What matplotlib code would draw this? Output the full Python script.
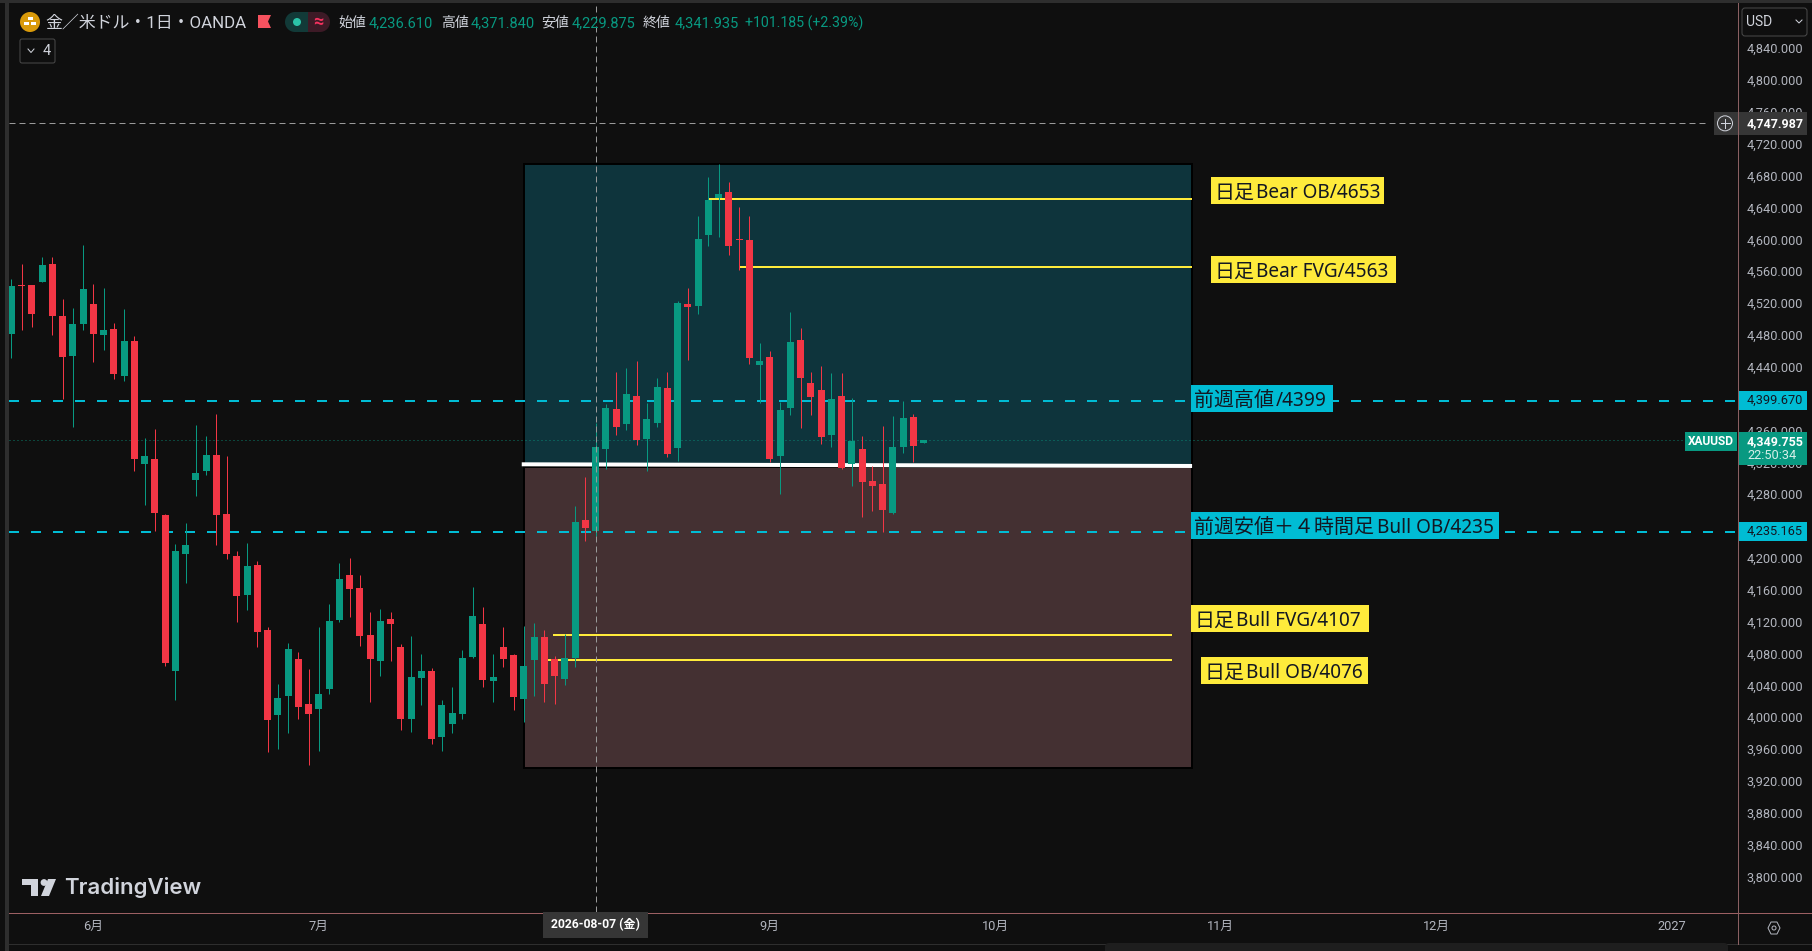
import matplotlib
matplotlib.use('Agg')
import matplotlib.pyplot as plt
from matplotlib.patches import Rectangle, Circle, Polygon, FancyBboxPatch
from matplotlib.transforms import ScaledTranslation

plt.rcParams['font.family'] = ['Roboto', 'Noto Sans CJK JP', 'DejaVu Sans']

# daily candles
opens = [4483.4, 4544.9, 4544.9, 4548.7, 4571.3, 4506.0, 4455.8, 4496.0, 4521.1, 4482.1,
         4489.7, 4430.7, 4474.6, 4320.1, 4326.4, 4256.1, 4060.2, 4207.2, 4300.1, 4311.4,
         4331.4, 4257.4, 4204.7, 4155.7, 4193.4, 4111.7, 4005.0, 4028.8, 4075.3, 4018.8,
         4012.5, 4037.6, 4124.3, 4180.8, 4164.5, 4105.4, 4072.8, 4125.5, 4090.4, 3999.9,
         4051.4, 4060.2, 3977.4, 3993.7, 4006.2, 4077.8, 4119.3, 4047.7, 4090.4, 4080.3,
         4025.0, 4074.0, 4102.9, 4075.3, 4050.2, 4076.6, 4249.9, 4236.61, 4339.0, 4389.2,
         4370.4, 4405.6, 4351.6, 4371.7, 4415.6, 4340.3, 4521.1, 4518.6, 4607.8, 4654.2,
         4661.8, 4602.7, 4601.5, 4444.5, 4454.5, 4330.2, 4390.5, 4475.9, 4421.9, 4413.1,
         4356.6, 4405.6, 4320.2, 4339.0, 4298.8, 4295.0, 4258.6, 4341.5, 4379.2, 4346.5]
highs = [4552.5, 4571.3, 4544.9, 4580.1, 4580.1, 4527.3, 4516.0, 4595.2, 4546.2, 4541.2,
         4497.2, 4514.8, 4480.9, 4352.8, 4364.1, 4257.4, 4219.7, 4246.1, 4369.1, 4355.3,
         4382.9, 4330.2, 4210.9, 4221.0, 4198.4, 4115.5, 4043.9, 4095.4, 4084.1, 4062.7,
         4115.5, 4144.4, 4195.8, 4202.1, 4180.8, 4134.3, 4138.0, 4134.3, 4094.1, 4104.2,
         4081.6, 4064.0, 4023.8, 4040.1, 4086.6, 4165.7, 4140.6, 4081.6, 4115.5, 4081.6,
         4116.8, 4120.5, 4111.7, 4079.0, 4106.7, 4267.4, 4303.9, 4371.84, 4395.5, 4435.7,
         4440.7, 4449.5, 4396.8, 4428.2, 4435.7, 4524.9, 4541.2, 4631.6, 4680.6, 4696.9,
         4674.3, 4642.9, 4631.6, 4472.1, 4462.1, 4398.0, 4511.1, 4491.0, 4435.7, 4443.2,
         4434.4, 4434.4, 4403.0, 4355.3, 4317.7, 4367.9, 4380.4, 4399.3, 4383.0, 4350.3]
lows = [4453.3, 4488.4, 4492.2, 4548.7, 4482.1, 4401.8, 4366.6, 4488.4, 4448.2, 4463.3,
        4426.9, 4424.4, 4311.4, 4268.7, 4236.1, 4066.5, 4023.8, 4170.8, 4280.0, 4306.3,
        4218.5, 4200.9, 4121.8, 4136.8, 4090.4, 3958.5, 3962.3, 3982.4, 4000.0, 3942.2,
        3959.8, 4031.4, 4121.8, 4128.0, 4091.6, 4021.3, 4054.0, 4072.8, 3986.1, 3983.6,
        4017.5, 3968.6, 3959.8, 3982.4, 3999.9, 4076.6, 4040.1, 4021.3, 4065.3, 4011.2,
        3996.2, 4028.8, 4021.3, 4018.8, 4042.6, 4065.3, 4223.5, 4229.875, 4313.9, 4356.6,
        4362.9, 4344.0, 4311.4, 4366.6, 4329.0, 4323.9, 4450.8, 4508.5, 4593.9, 4605.2,
        4582.6, 4563.8, 4445.8, 4396.8, 4322.7, 4282.5, 4381.7, 4365.4, 4381.7, 4345.3,
        4341.5, 4313.9, 4292.5, 4253.6, 4261.1, 4234.8, 4257.4, 4334.0, 4322.7, 4346.5]
closes = [4543.7, 4544.1, 4508.5, 4570.0, 4506.0, 4454.5, 4496.0, 4539.9, 4483.4, 4488.4,
          4433.2, 4474.6, 4326.4, 4330.2, 4258.7, 4070.3, 4210.9, 4218.5, 4308.8, 4331.4,
          4256.1, 4207.2, 4154.4, 4192.1, 4109.2, 3998.7, 4026.3, 4087.9, 4015.0, 4006.2,
          4031.4, 4123.0, 4175.8, 4163.2, 4104.2, 4075.3, 4123.0, 4119.3, 3999.9, 4052.7,
          4060.2, 3974.8, 4017.5, 4007.5, 4076.6, 4129.3, 4048.9, 4052.7, 4075.3, 4027.6,
          4066.5, 4102.9, 4043.9, 4054.0, 4076.6, 4247.3, 4239.8, 4341.935, 4390.5, 4366.6,
          4408.1, 4350.3, 4376.7, 4416.9, 4332.7, 4522.4, 4517.3, 4602.7, 4651.7, 4659.2,
          4593.9, 4601.5, 4453.3, 4449.5, 4326.5, 4388.0, 4473.4, 4428.2, 4404.3, 4354.1,
          4401.8, 4315.1, 4349.0, 4297.6, 4292.5, 4262.4, 4341.5, 4377.9, 4342.8, 4349.755]

price_ticks = list(range(3800, 4880, 40))
month_pos = [8, 30, 74, 96, 118, 139, 162]
month_labels = ['6月', '7月', '9月', '10月', '11月', '12月', '2027']

box_left, box_right = 50, 115.2
box_top, box_mid, box_bottom = 4696.9, 4317.0, 3938.8
white_line = [4319.8, 4317.7]
prev_high, prev_low = 4399.67, 4235.165
last_price = 4349.755
cross_price, cross_bar = 4747.987, 57

# level, first bar, last bar
yellow_levels = [(4653.4, 68, 115.2), (4567.6, 71, 115.2), (4105.4, 52.8, 113.2), (4074.0, 52.2, 113.2)]

BG = '#0f0f0f'
GREEN = '#089981'
RED = '#f23645'
CYAN = '#00bcd4'
YELLOW = '#ffeb3b'
PX = 0.72  # points per pixel at dpi 100

fig = plt.figure(figsize=(18.12, 9.51), dpi=100, facecolor=BG)

# chart pane 9..1737 x 3..912 px
ax = fig.add_axes([9 / 1812, 1 - 912 / 951, 1728 / 1812, 909 / 951], facecolor=BG)
ax.set_xlim(-0.2244, 168.36)
ax.set_ylim(3757.6, 4899.1)
for s in ax.spines.values():
    s.set_visible(False)

ax.yaxis.tick_right()
ax.set_yticks(price_ticks)
ax.set_yticklabels(['{:,.3f}'.format(p) for p in price_ticks])
ax.tick_params(axis='y', length=0, pad=6.6, labelsize=9.2, labelcolor='#b2b5be')
nudge = ScaledTranslation(0, 1.8 / 100, fig.dpi_scale_trans)
for lbl in ax.get_yticklabels():
    lbl.set_transform(lbl.get_transform() + nudge)
ax.set_xticks(month_pos)
ax.set_xticklabels(month_labels)
ax.tick_params(axis='x', length=0, pad=5.6, labelsize=9.2, labelcolor='#b2b5be')

# zones
ax.add_patch(Rectangle((box_left, box_mid), box_right - box_left, box_top - box_mid,
                       facecolor='#0e343c', edgecolor='black', lw=1.4, zorder=1))
ax.add_patch(Rectangle((box_left, box_bottom), box_right - box_left, box_mid - box_bottom,
                       facecolor='#443032', edgecolor='black', lw=1.4, zorder=1))
ax.plot([box_left - 0.2, box_right], white_line, color='white', lw=4 * PX, zorder=2,
        solid_capstyle='butt')

for level, x0, x1 in yellow_levels:
    ax.plot([x0, x1], [level, level], color=YELLOW, lw=2 * PX, zorder=2, solid_capstyle='butt')

for level in [prev_high, prev_low]:
    ax.plot([-0.2244, 168.36], [level, level], color=CYAN, lw=2 * PX, zorder=2,
            linestyle=(0, (5, 6)))
ax.plot([-0.2244, 168.36], [last_price, last_price], color=GREEN, lw=1 * PX, alpha=0.8,
        zorder=2, linestyle=(0, (1, 3)))

# candles
for i in range(len(opens)):
    col = GREEN if closes[i] >= opens[i] else RED
    ax.vlines(i, lows[i], highs[i], color=col, lw=1 * PX, zorder=3)
    ax.bar(i, abs(closes[i] - opens[i]), bottom=min(opens[i], closes[i]), width=0.68,
           color=col, linewidth=0, zorder=3.1)

# crosshair
ax.plot([-0.2244, 165.5], [cross_price, cross_price], color='#9a9a9a', lw=1 * PX, zorder=5,
        linestyle=(0, (6, 4)))
ax.plot([cross_bar, cross_bar], [3757.6, 4899.1], color='#9a9a9a', lw=1 * PX, zorder=5,
        linestyle=(0, (6, 4)))

# overlay in pixel coordinates for labels and the tradingview chrome
ui = fig.add_axes([0, 0, 1, 1], facecolor='none')
ui.set_xlim(0, 1812)
ui.set_ylim(951, 0)
ui.axis('off')


def py(price):
    return fig.bbox.height - ax.transData.transform((0, price))[1]


def box(x0, y0, x1, y1, color, z=2):
    ui.add_patch(Rectangle((x0, y0), x1 - x0, y1 - y0, facecolor=color, edgecolor='none', zorder=z))


def txt(x, y, s, color='#d1d4dc', size=10.0, ha='left', **kw):
    ui.text(x, y, s, color=color, fontsize=size, ha=ha, va='center', zorder=6, **kw)


# strips and separators
box(0, 0, 1812, 3, '#2e2e2e')
box(5, 0, 9, 951, '#2e2e2e')
ui.plot([9, 1812], [912.5, 912.5], color='#9c6063', lw=1 * PX, zorder=3)
ui.plot([1737.5, 1737.5], [3, 944], color='#8a6062', lw=1 * PX, zorder=5)
ui.plot([9, 1812], [944, 944], color='#2e2e2e', lw=1 * PX, zorder=3)
ui.add_patch(FancyBboxPatch((1108, 946), 617, 6, boxstyle='round,pad=3,rounding_size=4',
                            facecolor='#1e1e1e', edgecolor='none', zorder=4))

# annotation labels, japanese part is set a little larger than the latin part
note_family = ['Noto Sans', 'Noto Sans CJK JP']
notes = [(1211, 177, 1384, 204, 1215, '日足', 1255.7, 'Bear OB/4653', YELLOW),
         (1211, 256, 1396, 283, 1215, '日足', 1255.7, 'Bear FVG/4563', YELLOW),
         (1191, 385, 1333, 412, 1194, '前週高値', 1276, '/4399', CYAN),
         (1191, 512, 1499, 539, 1194, '前週安値＋４時間足', 1377, 'Bull OB/4235', CYAN),
         (1191, 605, 1369, 632, 1195, '日足', 1236, 'Bull FVG/4107', YELLOW),
         (1201, 657, 1368, 684, 1205, '日足', 1245.7, 'Bull OB/4076', YELLOW)]
for x0, y0, x1, y1, tx, jp, lx, latin, c in notes:
    box(x0, y0, x1, y1, c, z=4)
    ui.text(tx, y0 + 21.3, jp, color='#131722', fontsize=14.4, va='baseline', zorder=6,
            family=note_family)
    ui.text(lx, y0 + 21.3, latin, color='#131722', fontsize=13.7, va='baseline', zorder=6,
            family=note_family)

# header
ui.add_patch(Circle((30, 22), 10, facecolor='#d99a0a', edgecolor='none', zorder=4))
box(27.5, 16.5, 32.5, 20, 'white', z=5)
box(24, 21.5, 29, 25, 'white', z=5)
box(31, 21.5, 36, 25, 'white', z=5)
txt(45, 22.5, '金／米ドル・1日・OANDA', size=12.2)
ui.add_patch(Polygon([(258, 15), (271, 15), (268, 21.5), (271, 28), (258, 28)],
                     facecolor='#f7525f', edgecolor='none', zorder=4))
ui.add_patch(Circle((295, 22), 10, facecolor='#123a38', edgecolor='none', zorder=3))
ui.add_patch(Circle((320, 22), 10, facecolor='#3d1a26', edgecolor='none', zorder=3))
box(308, 12, 320, 32, '#3d1a26', z=3)
box(295, 12, 308, 32, '#123a38', z=3)
ui.add_patch(Circle((297, 22), 4, facecolor='#2bc4a8', edgecolor='none', zorder=4))
txt(318, 22, '≈', color='#f7325f', size=13, ha='center', fontweight='bold')

ohlc = [(338, '始値', 369, '4,236.610'), (441, '高値', 471, '4,371.840'),
        (541, '安値', 572, '4,229.875'), (643, '終値', 675, '4,341.935')]
for x0, name, x1, val in ohlc:
    txt(x0, 23, name, size=10)
    txt(x1, 23, val, color=GREEN, size=10.5)
txt(745, 23, '+101.185 (+2.39%)', color=GREEN, size=10.2)

ui.add_patch(FancyBboxPatch((20, 39), 35, 24, boxstyle='round,pad=0,rounding_size=2',
                            facecolor=BG, edgecolor='#4a4a4a', lw=1 * PX, zorder=4))
ui.plot([28, 31, 34], [49, 52.5, 49], color='#d1d4dc', lw=1 * PX, zorder=5)
txt(43, 51, '4', size=10.5)

# tradingview mark
LOGO = '#d1d4dc'
box(22, 879, 38, 885, LOGO, z=4)
box(31, 885, 38, 896, LOGO, z=4)
ui.add_patch(Circle((44, 882.5), 3.4, facecolor=LOGO, edgecolor='none', zorder=4))
ui.add_patch(Polygon([(48, 879), (56, 879), (49, 896), (41, 896)], facecolor=LOGO,
                     edgecolor='none', zorder=4))
txt(64, 888, 'TradingView', color=LOGO, size=16, fontweight='semibold', family=['Inter', 'Roboto'])

# price scale extras
ui.add_patch(FancyBboxPatch((1742, 8), 65, 28, boxstyle='round,pad=0,rounding_size=3',
                            facecolor=BG, edgecolor='#4a4a4a', lw=1 * PX, zorder=4))
txt(1746, 22, 'USD', size=10)
ui.plot([1796, 1799, 1802], [20, 23, 20], color='#d1d4dc', lw=1 * PX, zorder=5)

cy = py(cross_price)
box(1714, cy - 11.5, 1807, cy + 11.5, '#363636', z=4)
ui.add_patch(Circle((1725, cy), 7.5, facecolor='none', edgecolor='#d1d4dc', lw=1 * PX, zorder=5))
ui.plot([1720.5, 1729.5], [cy, cy], color='#d1d4dc', lw=1 * PX, zorder=5)
ui.plot([1725, 1725], [cy - 4.5, cy + 4.5], color='#d1d4dc', lw=1 * PX, zorder=5)
txt(1747, cy, '{:,.3f}'.format(cross_price), color='white', size=9, fontweight='bold')

for level in [prev_high, prev_low]:
    ly = py(level)
    box(1738, ly - 9.5, 1807, ly + 9.5, CYAN, z=4)
    txt(1747, ly, '{:,.3f}'.format(level), color='#131722', size=9.2)

ly = py(last_price) + 1
box(1685, ly - 9.5, 1737, ly + 9.5, GREEN, z=4)
txt(1711, ly, 'XAUUSD', color='white', size=8.6, ha='center', fontweight='bold')
box(1738, ly - 9.5, 1807, ly + 24, GREEN, z=4)
txt(1747, ly, '{:,.3f}'.format(last_price), color='white', size=9, fontweight='bold')
txt(1747, ly + 14, '22:50:34', color='#d6efe9', size=9.2)

# date label under the crosshair
box(543, 912, 648, 938, '#363636', z=4)
txt(595.5, 925, '2026-08-07 (金)', color='white', size=8.7, ha='center', fontweight='bold')

# settings hexagon
ui.add_patch(Polygon([(1768, 928), (1771, 922), (1777, 922), (1780, 928), (1777, 934), (1771, 934)],
                     facecolor='none', edgecolor='#b2b5be', lw=1 * PX, zorder=5))
ui.add_patch(Circle((1774, 928), 2, facecolor='none', edgecolor='#b2b5be', lw=1 * PX, zorder=5))

fig.savefig('out.png', dpi=100, facecolor=BG)
